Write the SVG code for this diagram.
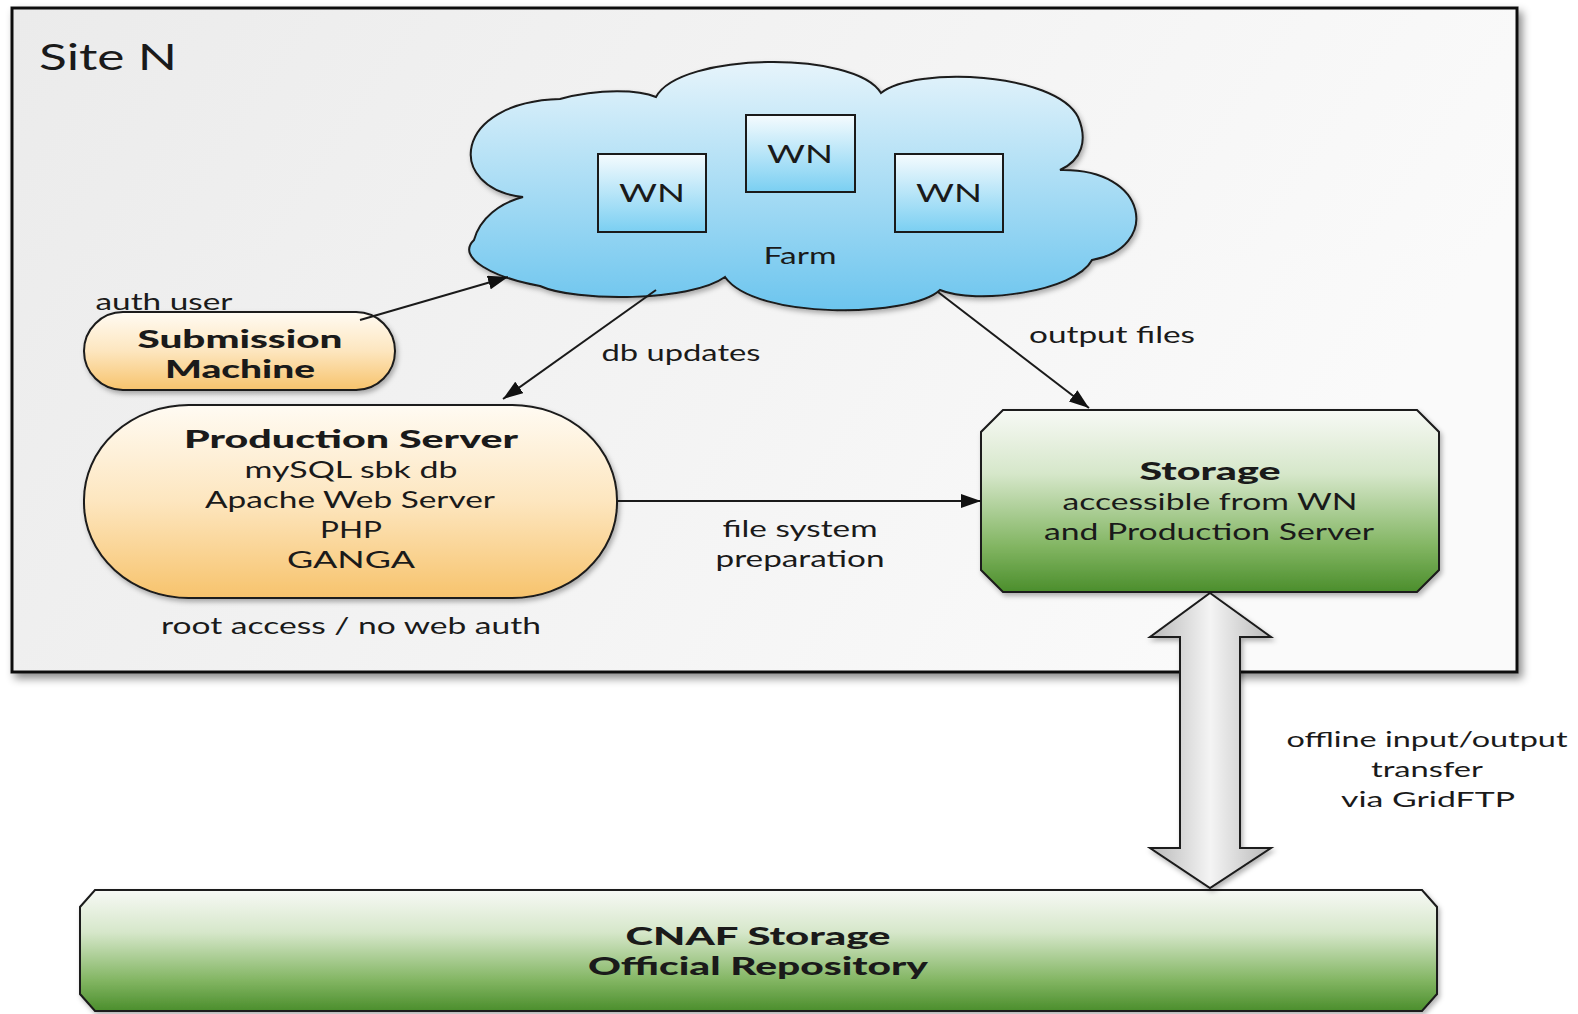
<svg xmlns="http://www.w3.org/2000/svg" width="1578" height="1014" viewBox="0 0 1578 1014">
<style>
.t{font-family:Lato,"Open Sans","Liberation Sans",sans-serif;fill:#1a1a1a;text-anchor:middle}
.r{font-size:23px}
.b{font-size:24px;font-weight:900}
.ln{stroke:#1a1a1a;stroke-width:2;fill:none}
.ol{stroke:#1a1a1a;stroke-width:2}
</style>
<defs>
<linearGradient id="gSite" x1="0" y1="0" x2="1" y2="0.3"><stop offset="0" stop-color="#ebebeb"/><stop offset="1" stop-color="#fafafa"/></linearGradient>
<linearGradient id="gCloud" x1="0" y1="0" x2="0" y2="1"><stop offset="0" stop-color="#e6f4fb"/><stop offset="1" stop-color="#6cc5ee"/></linearGradient>
<linearGradient id="gWN" x1="0" y1="0" x2="0" y2="1"><stop offset="0" stop-color="#f5fbfe"/><stop offset="1" stop-color="#7acff2"/></linearGradient>
<linearGradient id="gOr" x1="0" y1="0" x2="0" y2="1"><stop offset="0" stop-color="#fffbf3"/><stop offset="0.5" stop-color="#fde6bf"/><stop offset="1" stop-color="#f7c36c"/></linearGradient>
<linearGradient id="gGr" x1="0" y1="0" x2="0" y2="1"><stop offset="0" stop-color="#f7f9f5"/><stop offset="0.35" stop-color="#d6e7ca"/><stop offset="0.75" stop-color="#82b562"/><stop offset="1" stop-color="#4b8e2c"/></linearGradient>
<linearGradient id="gAr" x1="0" y1="0" x2="1" y2="0"><stop offset="0" stop-color="#b8b8b8"/><stop offset="0.5" stop-color="#f4f4f4"/><stop offset="1" stop-color="#b8b8b8"/></linearGradient>
<filter id="sh" x="-5%" y="-5%" width="115%" height="120%"><feDropShadow dx="4" dy="5" stdDeviation="4" flood-color="#000" flood-opacity="0.45"/></filter>
<filter id="sh2" x="-5%" y="-5%" width="115%" height="120%"><feDropShadow dx="2" dy="3" stdDeviation="2.5" flood-color="#000" flood-opacity="0.3"/></filter>
<marker id="ah" markerUnits="userSpaceOnUse" markerWidth="22" markerHeight="14" refX="20" refY="7" orient="auto"><path d="M0,0 L20,7 L0,14 Z" fill="#111"/></marker>
</defs>

<g id="site">
<rect x="12" y="8" width="1505" height="664" fill="url(#gSite)" stroke="#111" stroke-width="3" filter="url(#sh)"/>
<text class="t" x="108" y="70" font-size="37" textLength="138" lengthAdjust="spacingAndGlyphs">Site N</text>
</g>

<g id="farm">
<path d="M523,197 C445,188 452,102 560,99 C600,88 640,90 656,97 C680,52 855,50 881,93 C915,66 1055,72 1078,117 C1088,140 1082,160 1060,170 C1150,168 1160,248 1092,260 C1075,292 975,305 940,290 C910,318 755,320 725,277 C690,302 575,302 540,286 C495,278 455,258 474,240 C480,218 500,203 523,197 Z" fill="url(#gCloud)" class="ol" filter="url(#sh2)"/>
<text class="t r" x="800" y="264" textLength="73" lengthAdjust="spacingAndGlyphs">Farm</text>
</g>

<g id="wn1">
<rect x="598" y="154" width="108" height="78" fill="url(#gWN)" class="ol"/>
<text class="t" x="652" y="202" font-size="25" textLength="66" lengthAdjust="spacingAndGlyphs">WN</text>
</g>
<g id="wn2">
<rect x="746" y="115" width="109" height="77" fill="url(#gWN)" class="ol"/>
<text class="t" x="800" y="163" font-size="25" textLength="66" lengthAdjust="spacingAndGlyphs">WN</text>
</g>
<g id="wn3">
<rect x="895" y="154" width="108" height="78" fill="url(#gWN)" class="ol"/>
<text class="t" x="949" y="202" font-size="25" textLength="66" lengthAdjust="spacingAndGlyphs">WN</text>
</g>

<g id="submission">
<text class="t r" x="164" y="310" textLength="137" lengthAdjust="spacingAndGlyphs">auth user</text>
<rect x="84" y="312" width="311" height="78" rx="39" ry="39" fill="url(#gOr)" class="ol" filter="url(#sh2)"/>
<text class="t b" x="240" y="348" textLength="205" lengthAdjust="spacingAndGlyphs">Submission</text>
<text class="t b" x="240" y="378" textLength="150" lengthAdjust="spacingAndGlyphs">Machine</text>
</g>

<g id="production">
<rect x="84" y="405" width="533" height="193" rx="105" ry="95" fill="url(#gOr)" class="ol" filter="url(#sh2)"/>
<text class="t b" x="351" y="448" textLength="334" lengthAdjust="spacingAndGlyphs">Production Server</text>
<text class="t r" x="351" y="478" textLength="213" lengthAdjust="spacingAndGlyphs">mySQL sbk db</text>
<text class="t r" x="350" y="508" textLength="290" lengthAdjust="spacingAndGlyphs">Apache Web Server</text>
<text class="t r" x="351" y="538" textLength="62" lengthAdjust="spacingAndGlyphs">PHP</text>
<text class="t r" x="351" y="568" textLength="128" lengthAdjust="spacingAndGlyphs">GANGA</text>
<text class="t r" x="351" y="634" textLength="380" lengthAdjust="spacingAndGlyphs">root access / no web auth</text>
</g>

<g id="storage">
<polygon points="1003,410 1417,410 1439,432 1439,570 1417,592 1003,592 981,570 981,432" fill="url(#gGr)" class="ol" filter="url(#sh2)"/>
<text class="t b" x="1210" y="480" textLength="141" lengthAdjust="spacingAndGlyphs">Storage</text>
<text class="t r" x="1210" y="510" textLength="295" lengthAdjust="spacingAndGlyphs">accessible from WN</text>
<text class="t r" x="1209" y="540" textLength="330" lengthAdjust="spacingAndGlyphs">and Production Server</text>
</g>

<g id="cnaf">
<polygon points="95,890 1422,890 1437,907 1437,994 1422,1011 95,1011 80,994 80,907" fill="url(#gGr)" class="ol" filter="url(#sh2)"/>
<text class="t b" x="758" y="945" textLength="265" lengthAdjust="spacingAndGlyphs">CNAF Storage</text>
<text class="t b" x="758" y="975" textLength="340" lengthAdjust="spacingAndGlyphs">Official Repository</text>
</g>

<g id="connectors">
<line x1="360" y1="320" x2="508" y2="277" class="ln" marker-end="url(#ah)"/>
<line x1="656" y1="290" x2="503" y2="399" class="ln" marker-end="url(#ah)"/>
<text class="t r" x="681" y="361" textLength="159" lengthAdjust="spacingAndGlyphs">db updates</text>
<line x1="938" y1="292" x2="1089" y2="408" class="ln" marker-end="url(#ah)"/>
<text class="t r" x="1112" y="343" textLength="166" lengthAdjust="spacingAndGlyphs">output files</text>
<line x1="617" y1="501" x2="981" y2="501" class="ln" marker-end="url(#ah)"/>
<text class="t r" x="800" y="537" textLength="155" lengthAdjust="spacingAndGlyphs">file system</text>
<text class="t r" x="800" y="567" textLength="169" lengthAdjust="spacingAndGlyphs">preparation</text>
<polygon points="1210,593 1271,637 1240,637 1240,848 1271,848 1210,888 1150,848 1180,848 1180,637 1150,637" fill="url(#gAr)" class="ol" filter="url(#sh2)"/>
<text class="t" font-size="21" x="1427" y="747" textLength="281" lengthAdjust="spacingAndGlyphs">offline input/output</text>
<text class="t" font-size="21" x="1427" y="777" textLength="112" lengthAdjust="spacingAndGlyphs">transfer</text>
<text class="t" font-size="21" x="1428" y="807" textLength="174" lengthAdjust="spacingAndGlyphs">via GridFTP</text>
</g>
</svg>
